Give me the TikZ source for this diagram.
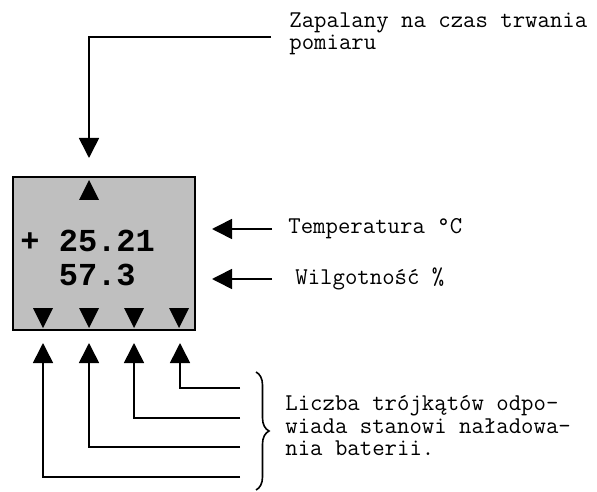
\documentclass[tikz,border=0pt]{standalone}
\usepackage{fontspec}
\newfontfamily\digitfont{Liberation Mono}
\usetikzlibrary{arrows.meta,decorations.pathreplacing}

\tikzset{
  lbl/.style={font=\ttfamily\fontsize{12.05}{11.25}\selectfont,inner sep=0pt,anchor=west,align=left},
  digits/.style={font=\digitfont\bfseries\fontsize{16}{17}\selectfont,inner sep=0pt,anchor=base west},
  display/.style={draw,line width=1pt,fill=black!25,minimum width=91pt,minimum height=76.5pt,inner sep=0pt},
  arr/.style={line width=0.8pt,-{Triangle[length=10pt,width=10pt]}}
}

\begin{document}
\begin{tikzpicture}[x=0.5pt,y=-0.5pt]
\useasboundingbox (0,0) rectangle (597,491);
% the display
\node[display] (disp) at (104,253.5) {};
\fill (89,180) -- (79,200) -- (99,200) -- cycle;
\foreach \x in {43,89,134,179}
  \fill (\x-10,308) -- (\x+10,308) -- (\x,328) -- cycle;
\node[digits] (tval) at (20,251) {+ 25.21};
\node[digits] (hval) at (20,285) {~~57.3};
% labels
\node[lbl] (zap) at (289,34) {Zapalany na czas trwania\\pomiaru};
\node[lbl] (temp) at (288,229) {Temperatura °C};
\node[lbl] (hum) at (295,279) {Wilgotność \%};
\node[lbl] (batt) at (285,426) {Liczba trójkątów odpo-\\wiada stanowi naładowa-\\nia baterii.};
% arrows
\coordinate (zapfoot) at (271,37);
\coordinate (ledtip) at (89,158);
\draw[arr] (zapfoot) -| (ledtip);
\coordinate (tempptr) at (212,229);
\draw[arr] ([xshift=-8pt]temp.west) -- (tempptr);
\coordinate (humptr) at (212,279);
\draw[arr] ([xshift=-11.5pt]hum.west) -- (humptr);
\foreach \x/\y in {180/388,134/418,89/447,43/477}{
  \coordinate (seg\y) at (240,\y);
  \coordinate (bar\x) at (\x,343);
  \draw[arr] (seg\y) -| (bar\x);
}
\draw[decorate,decoration={brace,amplitude=6.5pt},line width=0.8pt] (256,372) -- (256,490);
\end{tikzpicture}
\end{document}
